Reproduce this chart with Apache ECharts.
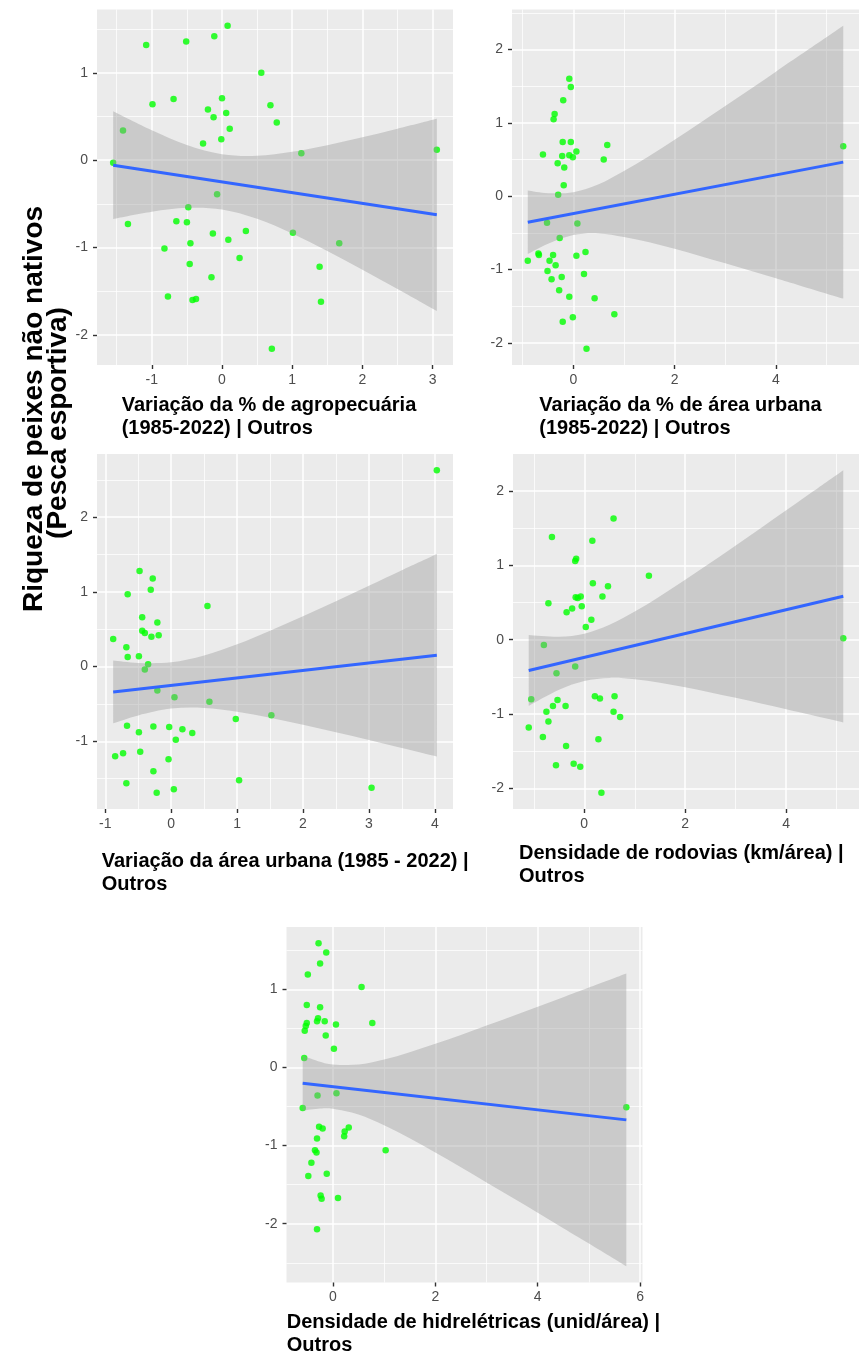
<!DOCTYPE html>
<html>
<head>
<meta charset="utf-8">
<script src="https://cdn.jsdelivr.net/npm/echarts@6/dist/echarts.min.js"></script>
<style>
  html, body { margin: 0; padding: 0; background: #ffffff; }
  #chart { width: 859px; height: 1357px; }
</style>
</head>
<body>
<div id="chart"></div>
<script>
// ---------- Panel 1: variação da % de agropecuária ----------
const agroX = [0.08, -0.11, -0.51, -1.08, 0.56, -0.69, 0.00, -0.99, 0.69, -0.20,
               0.06, -0.12, 0.78, 0.11, -0.01, -0.27, -1.41, 1.13, 3.06, -1.55,
               -0.07, -0.48, -1.34, -0.65, -0.50, -0.13, 0.34, 1.01, -0.45, 0.09,
               1.67, -0.82, 0.25, -0.46, 1.39, -0.15, -0.77, -0.42, -0.37, 1.41, 0.71];
const agroY = [1.54, 1.42, 1.36, 1.32, 1.00, 0.70, 0.71, 0.64, 0.63, 0.58,
               0.54, 0.49, 0.43, 0.36, 0.24, 0.19, 0.34, 0.08, 0.12, -0.03,
               -0.39, -0.54, -0.73, -0.70, -0.71, -0.84, -0.81, -0.83, -0.95, -0.91,
               -0.95, -1.01, -1.12, -1.19, -1.22, -1.34, -1.56, -1.60, -1.59, -1.62, -2.16];
const agroFitX = [-1.55, 3.06];
const agroFitY = [-0.057, -0.626];
const agroBandX  = [-1.55, -1, -0.5, 0, 0.5, 1, 1.5, 2, 2.5, 3.06];
const agroBandLo = [-0.674, -0.591, -0.546, -0.564, -0.670, -0.839, -1.040, -1.254, -1.474, -1.726];
const agroBandHi = [0.560, 0.343, 0.174, 0.068, 0.050, 0.095, 0.172, 0.262, 0.360, 0.474];
const agroXTicks = [-1, 0, 1, 2, 3];
const agroYTicks = [-2, -1, 0, 1];
const agroTitle = 'Variação da % de agropecuária\n(1985-2022) | Outros';

// ---------- Panel 2: variação da % de área urbana ----------
const urbX = [-0.08, -0.05, -0.20, -0.37, -0.39, -0.21, -0.05, 0.67, -0.60, -0.22,
              -0.08, -0.01, 0.06, 0.60, -0.31, -0.18, -0.19, -0.30, -0.52, 0.08,
              -0.27, -0.69, -0.68, -0.90, -0.40, 0.06, 0.24, -0.47, -0.35, -0.51,
              -0.43, -0.23, 0.21, -0.28, -0.08, 0.42, 0.81, -0.21, -0.01, 0.26, 5.33];
const urbY = [1.60, 1.49, 1.31, 1.12, 1.05, 0.74, 0.74, 0.70, 0.57, 0.55,
              0.56, 0.53, 0.61, 0.50, 0.45, 0.39, 0.15, 0.02, -0.36, -0.37,
              -0.57, -0.78, -0.80, -0.88, -0.80, -0.81, -0.76, -0.88, -0.94, -1.02,
              -1.13, -1.10, -1.06, -1.28, -1.37, -1.39, -1.61, -1.71, -1.65, -2.08, 0.68];
const urbFitX = [-0.90, 5.33];
const urbFitY = [-0.355, 0.465];
const urbBandX  = [-0.90, -0.5, 0, 0.5, 1, 1.5, 2, 2.5, 3, 3.5, 4, 4.5, 5.33];
const urbBandLo = [-0.788, -0.648, -0.530, -0.507, -0.556, -0.628, -0.717, -0.813, -0.913, -1.015, -1.118, -1.222, -1.395];
const urbBandHi = [0.078, 0.042, 0.055, 0.163, 0.344, 0.548, 0.769, 0.997, 1.229, 1.463, 1.698, 1.934, 2.325];
const urbXTicks = [0, 2, 4];
const urbYTicks = [-2, -1, 0, 1, 2];
const urbTitle = 'Variação da % de área urbana\n(1985-2022) | Outros';

// ---------- Panel 3: variação da área urbana ----------
const areaX = [4.03, -0.48, -0.28, -0.31, -0.66, 0.55, -0.44, -0.21, -0.44, -0.40,
               -0.30, -0.19, -0.88, -0.68, -0.66, -0.49, -0.35, -0.40, -0.21, 0.05,
               0.58, 1.52, 0.98, -0.67, -0.49, -0.27, -0.03, 0.17, 0.32, 0.07,
               -0.85, -0.73, -0.47, -0.04, -0.27, -0.68, 1.03, 0.04, -0.22, 3.04];
const areaY = [2.63, 1.28, 1.18, 1.03, 0.97, 0.81, 0.66, 0.59, 0.48, 0.45,
               0.40, 0.42, 0.37, 0.26, 0.13, 0.14, 0.03, -0.04, -0.32, -0.41,
               -0.47, -0.65, -0.70, -0.79, -0.88, -0.80, -0.81, -0.84, -0.89, -0.98,
               -1.20, -1.16, -1.14, -1.24, -1.40, -1.56, -1.52, -1.64, -1.69, -1.62];
const areaFitX = [-0.88, 4.03];
const areaFitY = [-0.339, 0.152];
const areaBandX  = [-0.88, -0.5, 0, 0.5, 1, 1.5, 2, 2.5, 3, 3.5, 4.03];
const areaBandLo = [-0.759, -0.653, -0.562, -0.553, -0.603, -0.683, -0.777, -0.878, -0.982, -1.090, -1.203];
const areaBandHi = [0.081, 0.049, 0.058, 0.149, 0.299, 0.481, 0.675, 0.876, 1.082, 1.290, 1.507];
const areaXTicks = [-1, 0, 1, 2, 3, 4];
const areaYTicks = [-1, 0, 1, 2];
const areaTitle = 'Variação da área urbana (1985 - 2022) |\nOutros';

// ---------- Panel 4: densidade de rodovias ----------
const roadX = [0.58, -0.64, 0.16, -0.16, -0.18, 1.28, 0.17, 0.47, -0.71, -0.17,
               -0.07, -0.13, 0.36, -0.05, -0.24, -0.35, 0.14, 0.03, 5.13, -0.80,
               -0.18, -0.55, -1.05, -0.53, 0.21, 0.31, 0.60, -0.62, -0.37, -0.75,
               0.58, 0.71, -0.71, -1.10, -0.82, 0.28, -0.36, -0.56, -0.21, -0.08, 0.34];
const roadY = [1.63, 1.38, 1.33, 1.09, 1.06, 0.86, 0.76, 0.72, 0.49, 0.57,
               0.58, 0.56, 0.58, 0.45, 0.42, 0.37, 0.27, 0.17, 0.02, -0.07,
               -0.36, -0.45, -0.80, -0.81, -0.76, -0.79, -0.76, -0.89, -0.89, -0.97,
               -0.97, -1.04, -1.10, -1.18, -1.31, -1.34, -1.43, -1.69, -1.67, -1.71, -2.06];
const roadFitX = [-1.10, 5.13];
const roadFitY = [-0.413, 0.584];
const roadBandX  = [-1.10, -0.5, 0, 0.5, 1, 1.5, 2, 2.5, 3, 3.5, 4, 4.5, 5.13];
const roadBandLo = [-0.891, -0.674, -0.555, -0.514, -0.532, -0.579, -0.641, -0.709, -0.782, -0.858, -0.935, -1.014, -1.113];
const roadBandHi = [0.065, 0.040, 0.081, 0.200, 0.378, 0.585, 0.807, 1.035, 1.268, 1.504, 1.741, 1.980, 2.281];
const roadXTicks = [0, 2, 4];
const roadYTicks = [-2, -1, 0, 1, 2];
const roadTitle = 'Densidade de rodovias (km/área) |\nOutros';

// ---------- Panel 5: densidade de hidrelétricas ----------
const hydX = [-0.28, -0.13, -0.25, -0.49, 0.56, -0.51, -0.25, -0.29, -0.31, -0.16,
              -0.51, -0.53, -0.55, 0.06, 0.77, -0.14, 0.02, -0.56, -0.30, 0.07,
              -0.59, 5.73, -0.27, -0.20, 0.31, 0.23, 0.22, -0.31, -0.35, -0.32,
              1.03, -0.42, -0.48, -0.12, -0.24, -0.22, 0.10, -0.31];
const hydY = [1.59, 1.47, 1.33, 1.19, 1.03, 0.80, 0.77, 0.63, 0.59, 0.59,
              0.57, 0.53, 0.47, 0.55, 0.57, 0.41, 0.24, 0.12, -0.36, -0.33,
              -0.52, -0.51, -0.76, -0.78, -0.77, -0.82, -0.88, -0.91, -1.06, -1.09,
              -1.06, -1.22, -1.39, -1.36, -1.64, -1.68, -1.67, -2.07];
const hydFitX = [-0.59, 5.73];
const hydFitY = [-0.201, -0.671];
const hydBandX  = [-0.59, -0.25, 0, 0.5, 1, 1.5, 2, 2.5, 3, 3.5, 4, 4.5, 5, 5.73];
const hydBandLo = [-0.553, -0.526, -0.529, -0.601, -0.739, -0.907, -1.089, -1.278, -1.471, -1.665, -1.860, -2.057, -2.254, -2.545];
const hydBandHi = [0.151, 0.074, 0.039, 0.037, 0.101, 0.195, 0.303, 0.416, 0.535, 0.655, 0.776, 0.899, 1.022, 1.203];
const hydXTicks = [0, 2, 4, 6];
const hydYTicks = [-2, -1, 0, 1];
const hydTitle = 'Densidade de hidrelétricas (unid/área) |\nOutros';

// Shared y-axis title
const yTitleLine1 = 'Riqueza de peixes não nativos';
const yTitleLine2 = '(Pesca esportiva)';

// ---------- Layout and styling ----------
const FONT = '"Liberation Sans", Arial, Helvetica, sans-serif';
const panels = [
  { x: agroX, y: agroY, fx: agroFitX, fy: agroFitY, bx: agroBandX, lo: agroBandLo, hi: agroBandHi,
    xt: agroXTicks, yt: agroYTicks, xStep: 1, yStep: 1, box: [97, 9.5, 356, 355.5],
    title: agroTitle, tpos: [121.7, 412.5] },
  { x: urbX, y: urbY, fx: urbFitX, fy: urbFitY, bx: urbBandX, lo: urbBandLo, hi: urbBandHi,
    xt: urbXTicks, yt: urbYTicks, xStep: 2, yStep: 1, box: [512, 9.5, 356, 355.5],
    title: urbTitle, tpos: [539.3, 412] },
  { x: areaX, y: areaY, fx: areaFitX, fy: areaFitY, bx: areaBandX, lo: areaBandLo, hi: areaBandHi,
    xt: areaXTicks, yt: areaYTicks, xStep: 1, yStep: 1, box: [97, 454, 356, 355],
    title: areaTitle, tpos: [101.7, 868] },
  { x: roadX, y: roadY, fx: roadFitX, fy: roadFitY, bx: roadBandX, lo: roadBandLo, hi: roadBandHi,
    xt: roadXTicks, yt: roadYTicks, xStep: 2, yStep: 1, box: [513, 454, 356, 355],
    title: roadTitle, tpos: [519, 860.5] },
  { x: hydX, y: hydY, fx: hydFitX, fy: hydFitY, bx: hydBandX, lo: hydBandLo, hi: hydBandHi,
    xt: hydXTicks, yt: hydYTicks, xStep: 2, yStep: 1, box: [286.5, 927, 356, 355.5],
    title: hydTitle, tpos: [286.7, 1329] }
];

// Continuous-scale limits padded by 5% of the data range on each side
function padded(values) {
  const lo = Math.min(...values), hi = Math.max(...values);
  const pad = (hi - lo) * 0.05;
  return [lo - pad, hi + pad];
}
const zip = (a, b) => a.map((v, i) => [v, b[i]]);

// Catmull-Rom curve through pixel points, written as cubic Bezier path commands
function curveThrough(pts) {
  let d = '';
  for (let k = 0; k < pts.length - 1; k++) {
    const p0 = pts[Math.max(k - 1, 0)], p1 = pts[k], p2 = pts[k + 1], p3 = pts[Math.min(k + 2, pts.length - 1)];
    const c1x = p1[0] + (p2[0] - p0[0]) / 6, c1y = p1[1] + (p2[1] - p0[1]) / 6;
    const c2x = p2[0] - (p3[0] - p1[0]) / 6, c2y = p2[1] - (p3[1] - p1[1]) / 6;
    d += ' C' + c1x + ' ' + c1y + ' ' + c2x + ' ' + c2y + ' ' + p2[0] + ' ' + p2[1];
  }
  return d;
}

const grids = [], xAxes = [], yAxes = [], series = [], graphics = [];

function axisCommon(ticks, step, lim, margin) {
  return {
    type: 'value',
    min: lim[0], max: lim[1],
    minInterval: step, maxInterval: step,
    axisLine: { show: false, onZero: false },
    axisTick: { show: true, length: 4, customValues: ticks, lineStyle: { color: '#333333', width: 1.4 } },
    axisLabel: { customValues: ticks, color: '#4d4d4d', fontSize: 14, fontFamily: FONT, margin: margin },
    splitLine: { show: true, lineStyle: { color: '#ffffff', width: 1.5 } },
    minorTick: { show: false, splitNumber: 2 },
    minorSplitLine: { show: true, lineStyle: { color: '#ffffff', width: 0.75 } }
  };
}

panels.forEach((p, i) => {
  const [left, top, width, height] = p.box;
  grids.push({ left, top, width, height, show: true, backgroundColor: '#ebebeb', borderWidth: 0 });

  const xLim = padded(p.x.concat(p.fx));
  const yLim = padded(p.y.concat(p.lo, p.hi));
  xAxes.push(Object.assign(axisCommon(p.xt, p.xStep, xLim, 8), { gridIndex: i }));
  yAxes.push(Object.assign(axisCommon(p.yt, p.yStep, yLim, 9), { gridIndex: i }));

  // observations
  series.push({
    type: 'scatter', xAxisIndex: i, yAxisIndex: i, z: 2,
    data: zip(p.x, p.y), symbol: 'circle', symbolSize: 6.5,
    itemStyle: { color: '#00ff00' }, silent: true
  });

  // confidence band of the linear fit, drawn over the points
  series.push({
    type: 'custom', xAxisIndex: i, yAxisIndex: i, z: 3, clip: true, silent: true,
    data: p.bx.map((x, k) => [x, p.lo[k], p.hi[k]]),
    encode: { x: 0, y: [1, 2] },
    renderItem: (params, api) => {
      if (params.dataIndex !== 0) return;
      const upper = p.bx.map((x, k) => api.coord([x, p.hi[k]]));
      const lower = p.bx.map((x, k) => api.coord([x, p.lo[k]])).reverse();
      const d = 'M' + upper[0][0] + ' ' + upper[0][1] + curveThrough(upper) +
                ' L' + lower[0][0] + ' ' + lower[0][1] + curveThrough(lower) + ' Z';
      return { type: 'path', shape: { pathData: d }, style: { fill: 'rgba(153,153,153,0.4)' } };
    }
  });

  // fitted linear trend
  series.push({
    type: 'line', xAxisIndex: i, yAxisIndex: i, z: 4,
    data: zip(p.fx, p.fy), symbol: 'none',
    lineStyle: { color: '#3366ff', width: 3 }, silent: true
  });

  // x-axis title, two lines, left aligned
  graphics.push({
    type: 'text', x: p.tpos[0], y: p.tpos[1] - 18.4, silent: true,
    style: { text: p.title, font: 'bold 20px ' + FONT, fill: '#000000',
             align: 'left', verticalAlign: 'top', lineHeight: 23 }
  });
});

// shared y-axis title, rotated
graphics.push({
  type: 'text', x: 34.5, y: 409, rotation: Math.PI / 2, silent: true,
  style: { text: yTitleLine1, font: 'bold 28px ' + FONT, fill: '#000000', align: 'center', verticalAlign: 'middle' }
});
graphics.push({
  type: 'text', x: 58, y: 423, rotation: Math.PI / 2, silent: true,
  style: { text: yTitleLine2, font: 'bold 28px ' + FONT, fill: '#000000', align: 'center', verticalAlign: 'middle' }
});

const chart = echarts.init(document.getElementById('chart'), null, { renderer: 'canvas', width: 859, height: 1357 });
chart.setOption({
  animation: false,
  backgroundColor: '#ffffff',
  grid: grids,
  xAxis: xAxes,
  yAxis: yAxes,
  series: series,
  graphic: graphics
});
</script>
</body>
</html>
